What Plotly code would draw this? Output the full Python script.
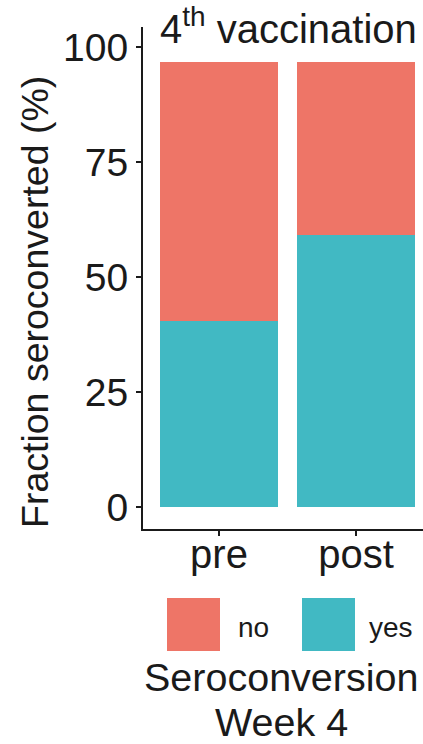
import plotly.graph_objects as go

# Data
categories = ["pre", "post"]
yes_pct = [40.4, 59.1]
no_pct = [56.3, 37.6]
y_ticks = [0, 25, 50, 75, 100]
legend_labels = ["no", "yes"]

RED = "#EE7567"
TEAL = "#41B9C3"
FONT = "Liberation Sans, Arial, sans-serif"
INK = "#1a1a1a"

W, H = 423, 744
L, R, T, B = 143, 0, 27, 215
PW = W - L - R
PH = H - T - B


def px(x):
    return (x - L) / PW


def py(y):
    return (H - B - y) / PH


fig = go.Figure()
fig.add_trace(go.Bar(x=categories, y=yes_pct, name="yes", marker=dict(color=TEAL, line=dict(width=0)), width=0.865))
fig.add_trace(go.Bar(x=categories, y=no_pct, name="no", marker=dict(color=RED, line=dict(width=0)), width=0.865))

fig.update_layout(
    width=W, height=H,
    margin=dict(l=L, r=R, t=T, b=B, pad=0),
    barmode="stack",
    showlegend=False,
    plot_bgcolor="white",
    paper_bgcolor="white",
    font=dict(family=FONT, color=INK),
    xaxis=dict(
        range=[-0.555, 1.489],
        showline=True, linecolor=INK, linewidth=2,
        ticks="outside", ticklen=5, tickwidth=1.5, tickcolor=INK,
        tickfont=dict(size=40, family=FONT, color=INK),
        ticklabelstandoff=-16,
        showgrid=False, zeroline=False,
    ),
    yaxis=dict(
        range=[-4.78, 104.35],
        tickvals=y_ticks,
        showline=True, linecolor=INK, linewidth=2,
        ticks="outside", ticklen=5, tickwidth=1.5, tickcolor=INK,
        tickfont=dict(size=39, family=FONT, color=INK),
        showgrid=False, zeroline=False,
    ),
)

annotations = [
    dict(text="4<sup>th</sup> vaccination", x=px(288), y=py(26), xref="paper", yref="paper",
         xanchor="center", yanchor="middle", showarrow=False,
         font=dict(size=40, family=FONT, color=INK)),
    dict(text="Fraction seroconverted (%)", x=px(35), y=py(302), xref="paper", yref="paper",
         xanchor="center", yanchor="middle", textangle=-90, showarrow=False,
         font=dict(size=37.5, family=FONT, color=INK)),
    dict(text=legend_labels[0], x=px(236), y=py(627), xref="paper", yref="paper",
         xanchor="left", yanchor="middle", showarrow=False,
         font=dict(size=28, family=FONT, color=INK)),
    dict(text=legend_labels[1], x=px(367), y=py(627), xref="paper", yref="paper",
         xanchor="left", yanchor="middle", showarrow=False,
         font=dict(size=28, family=FONT, color=INK)),
    dict(text="Seroconversion", x=px(281), y=py(677), xref="paper", yref="paper",
         xanchor="center", yanchor="middle", showarrow=False,
         font=dict(size=39.5, family=FONT, color=INK)),
    dict(text="Week 4", x=px(281), y=py(722), xref="paper", yref="paper",
         xanchor="center", yanchor="middle", showarrow=False,
         font=dict(size=39.5, family=FONT, color=INK)),
]
fig.update_layout(annotations=annotations)

shapes = [
    dict(type="rect", xref="paper", yref="paper", x0=px(167), x1=px(220), y0=py(651), y1=py(598),
         fillcolor=RED, line=dict(width=0), layer="above"),
    dict(type="rect", xref="paper", yref="paper", x0=px(302), x1=px(355), y0=py(651), y1=py(598),
         fillcolor=TEAL, line=dict(width=0), layer="above"),
]
fig.update_layout(shapes=shapes)

fig.write_html(
    "out.html",
    config={"displayModeBar": False},
    post_script="document.body.style.margin='0';document.body.style.padding='0';",
)
